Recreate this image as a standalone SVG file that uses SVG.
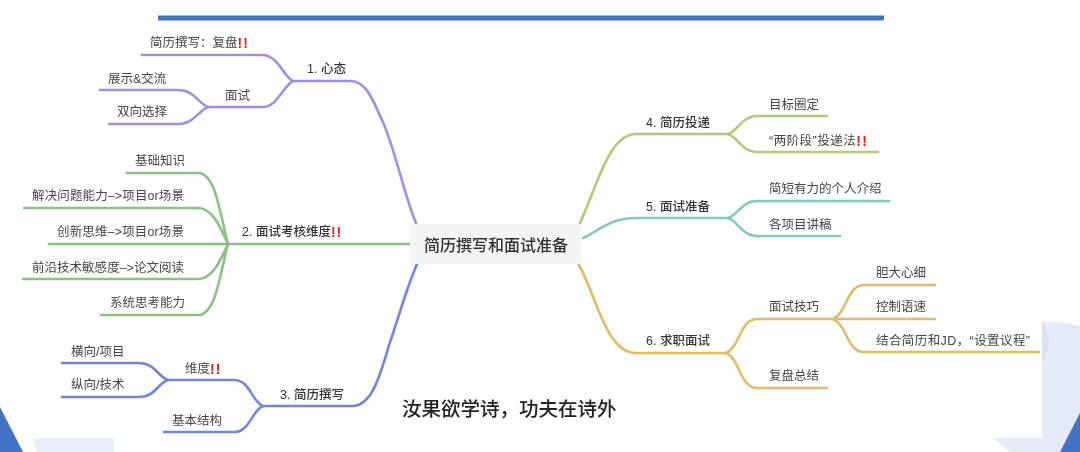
<svg xmlns="http://www.w3.org/2000/svg" width="1080" height="452" viewBox="0 0 1080 452">
<style>
text{font-family:"Liberation Sans","Noto Sans CJK SC",sans-serif;font-size:12.5px;fill:#444;dominant-baseline:central}
.b{font-weight:500;fill:#333}
.r{fill:#e81c1c;font-weight:700;font-size:14px;letter-spacing:1px}
.c path{fill:none;stroke-width:2.6;stroke-linecap:round}
.p{stroke:#a48fdc}.g{stroke:#8cc084}.u{stroke:#7484d8}.o{stroke:#b4c878}.t{stroke:#84c8c4}.y{stroke:#dcbc68}
</style>
<defs><filter id="s" x="-2%" y="-2%" width="104%" height="104%"><feGaussianBlur stdDeviation="0.35"/></filter></defs>
<rect width="1080" height="452" fill="#fff"/>
<g id="backdrop">
<rect x="158" y="15.5" width="726" height="5" fill="#4472c4"/>
<path d="M0 407L23 452H0Z" fill="#4472c4"/>
<path d="M33 438H114V452H37Z" fill="#e9eff9"/>
<path d="M1042 322C1056 321 1070 323 1080 326V452H1010L993 438H1042Z" fill="#e4eaf7"/>
<path d="M1042 322C1052 335 1050 350 1042 363Z" fill="#d8e2f3"/>
<path d="M1080 413L1060 452H1080Z" fill="#4472c4"/>
</g>
<g filter="url(#s)">
<g id="connectors" class="c">
<path class="p" d="M416 223C404 195 395 148 382 120C372 98 366 81 350 81H293"/>
<path class="p" d="M293 81C283 76 278 55 262 55H142"/>
<path class="p" d="M293 81C283 86 278 107 262 107H208"/>
<path class="p" d="M208 107C198 103 194 90 178 90H100"/>
<path class="p" d="M208 107C198 111 194 124 178 124H109"/>
<path class="g" d="M410 244H228"/>
<path class="g" d="M228 244C220 215 216 173 198 173H127"/>
<path class="g" d="M228 244C222 232 214 208 198 208H24"/>
<path class="g" d="M228 244H49"/>
<path class="g" d="M228 244C222 256 214 279 198 279H23"/>
<path class="g" d="M228 244C220 273 216 315 198 315H101"/>
<path class="u" d="M417 264C404 295 398 320 390 342C380 376 372 406 352 406H263"/>
<path class="u" d="M263 406C252 402 250 380 234 380H168"/>
<path class="u" d="M263 406C252 410 250 432 234 432H164"/>
<path class="u" d="M168 380C158 377 155 363 139 363H62"/>
<path class="u" d="M168 380C158 383 155 397 139 397H62"/>
<path class="o" d="M580 223C596 190 608 134 636 134H728"/>
<path class="o" d="M728 134C738 131 742 116 757 116H827"/>
<path class="o" d="M728 134C738 137 742 152 757 152H878"/>
<path class="t" d="M583 238C600 230 610 218 636 218H728"/>
<path class="t" d="M728 218C738 215 742 201 757 201H889"/>
<path class="t" d="M728 218C738 221 742 236 757 236H840"/>
<path class="y" d="M579 265C596 295 606 353 636 353H726"/>
<path class="y" d="M726 353C740 347 740 319 757 319H833"/>
<path class="y" d="M726 353C740 359 740 388 757 388H827"/>
<path class="y" d="M833 319C847 313 847 285 864 285H935"/>
<path class="y" d="M833 319H935"/>
<path class="y" d="M833 319C847 325 847 352 864 352H1039"/>
</g>
<g id="root"><rect x="410" y="224" width="171" height="40" rx="3" fill="#f4f4f4"/><text x="424" y="245" style="font-size:16px;font-weight:500;fill:#333">简历撰写和面试准备</text></g>
<g id="n1"><text class="b" x="307" y="69">1. 心态</text></g>
<g id="n1a"><text x="150" y="43">简历撰写：复盘<tspan class="r">!!</tspan></text></g>
<g id="n1b"><text x="225" y="96">面试</text></g>
<g id="n1b1"><text x="108" y="79">展示&amp;交流</text></g>
<g id="n1b2"><text x="117" y="112">双向选择</text></g>
<g id="n2"><text class="b" x="242" y="232">2. 面试考核维度<tspan class="r">!!</tspan></text></g>
<g id="n2a"><text x="135" y="161">基础知识</text></g>
<g id="n2b"><text x="32" y="196" textLength="152">解决问题能力–&gt;项目or场景</text></g>
<g id="n2c"><text x="57" y="232" textLength="127">创新思维–&gt;项目or场景</text></g>
<g id="n2d"><text x="32" y="268" textLength="152">前沿技术敏感度–&gt;论文阅读</text></g>
<g id="n2e"><text x="110" y="303">系统思考能力</text></g>
<g id="n3"><text class="b" x="280" y="395">3. 简历撰写</text></g>
<g id="n3a"><text x="185" y="369">维度<tspan class="r">!!</tspan></text></g>
<g id="n3a1"><text x="71" y="352">横向/项目</text></g>
<g id="n3a2"><text x="71" y="385">纵向/技术</text></g>
<g id="n3b"><text x="172" y="421">基本结构</text></g>
<g id="n4"><text class="b" x="646" y="123">4. 简历投递</text></g>
<g id="n4a"><text x="769" y="105">目标圈定</text></g>
<g id="n4b"><text x="769" y="141" textLength="99">“两阶段”投递法<tspan class="r">!!</tspan></text></g>
<g id="n5"><text class="b" x="646" y="207">5. 面试准备</text></g>
<g id="n5a"><text x="769" y="189">简短有力的个人介绍</text></g>
<g id="n5b"><text x="769" y="225">各项目讲稿</text></g>
<g id="n6"><text class="b" x="646" y="341">6. 求职面试</text></g>
<g id="n6a"><text x="769" y="307">面试技巧</text></g>
<g id="n6a1"><text x="876" y="273">胆大心细</text></g>
<g id="n6a2"><text x="876" y="307">控制语速</text></g>
<g id="n6a3"><text x="876" y="341" textLength="154">结合简历和JD，“设置议程”</text></g>
<g id="n6b"><text x="769" y="376">复盘总结</text></g>
<g id="quote"><text x="402" y="409" style="font-size:19.5px;font-weight:500;fill:#222">汝果欲学诗，功夫在诗外</text></g>
</g>
</svg>
